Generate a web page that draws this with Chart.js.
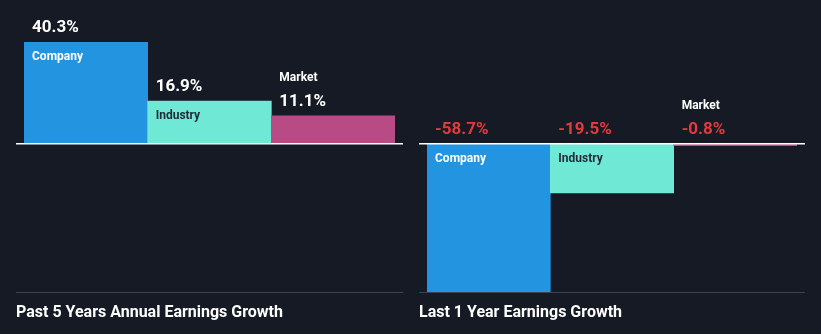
<!DOCTYPE html>
<html>
<head>
<meta charset="utf-8">
<script src="https://cdn.jsdelivr.net/npm/chart.js@4"></script>
<style>
  html, body { margin: 0; padding: 0; background: #151a24; }
  #wrap { position: relative; width: 821px; height: 334px; }
  .panel { position: absolute; top: 0; height: 334px; }
  #left { left: 0; width: 410px; }
  #right { left: 410px; width: 411px; }
</style>
</head>
<body>
<div id="wrap">
  <div class="panel" id="left"><canvas id="chart5y"></canvas></div>
  <div class="panel" id="right"><canvas id="chart1y"></canvas></div>
</div>
<script>
var categories = ["Company", "Industry", "Market"];
var past5Years = [40.3, 16.9, 11.1];
var last1Year = [-58.7, -19.5, -0.8];
var titles = ["Past 5 Years Annual Earnings Growth", "Last 1 Year Earnings Growth"];
var barColors = ["#2394df", "#6fe8d5", "#b84a85"];
var labelColors = ["#ffffff", "#1f2a36", "#ffffff"];

// both panels share the same value range
var all = past5Years.concat(last1Year);
var yMin = Math.min.apply(null, all);
var yMax = Math.max.apply(null, all);

var labelPlugin = {
  id: "labels",
  afterDatasetsDraw: function(chart) {
    var ctx = chart.ctx;
    var area = chart.chartArea;
    var y0 = chart.scales.y.getPixelForValue(0);
    var meta = chart.getDatasetMeta(0);
    var values = chart.data.datasets[0].data;

    ctx.save();
    // baseline
    ctx.strokeStyle = "#ffffff";
    ctx.lineWidth = 1.5;
    ctx.beginPath();
    ctx.moveTo(area.left - 8, y0);
    ctx.lineTo(area.right + 8, y0);
    ctx.stroke();
    // bottom rule
    ctx.strokeStyle = "#3b434f";
    ctx.lineWidth = 1;
    ctx.beginPath();
    ctx.moveTo(area.left - 8, area.bottom + 0.5);
    ctx.lineTo(area.right + 8, area.bottom + 0.5);
    ctx.stroke();

    ctx.textBaseline = "middle";
    ctx.textAlign = "left";
    meta.data.forEach(function(bar, i) {
      var v = values[i];
      var left = bar.x - bar.width / 2 + 8;
      var top = Math.min(bar.y, y0);
      var h = Math.abs(bar.y - y0);
      ctx.font = "bold 17px Roboto";
      ctx.fillStyle = v < 0 ? "#e23b3d" : "#ffffff";
      ctx.fillText(v.toFixed(1) + "%", left, top - 14);
      ctx.font = "bold 12px Roboto";
      if (h > 30) {
        ctx.fillStyle = labelColors[i];
        ctx.fillText(categories[i], left, top + 15);
      } else {
        ctx.fillStyle = "#ffffff";
        ctx.fillText(categories[i], left, top - 38);
      }
    });

    ctx.font = "bold 16px Roboto";
    ctx.fillStyle = "#ffffff";
    ctx.fillText(chart.options.plugins.panelTitle, area.left - 8, 313);
    ctx.restore();
  }
};

function makeChart(id, values, title, padLeft, padRight) {
  return new Chart(document.getElementById(id), {
    type: "bar",
    data: {
      labels: categories,
      datasets: [{
        data: values,
        backgroundColor: barColors,
        borderWidth: 0,
        barPercentage: 1,
        categoryPercentage: 1,
        minBarLength: 2
      }]
    },
    options: {
      responsive: true,
      maintainAspectRatio: false,
      animation: false,
      layout: { padding: { top: 42, bottom: 42, left: padLeft, right: padRight } },
      scales: {
        x: { display: false },
        y: { display: false, min: yMin, max: yMax }
      },
      plugins: {
        legend: { display: false },
        tooltip: { enabled: false },
        panelTitle: title
      }
    },
    plugins: [labelPlugin]
  });
}

makeChart("chart5y", past5Years, titles[0], 24, 15);
makeChart("chart1y", last1Year, titles[1], 17, 24);
</script>
</body>
</html>
